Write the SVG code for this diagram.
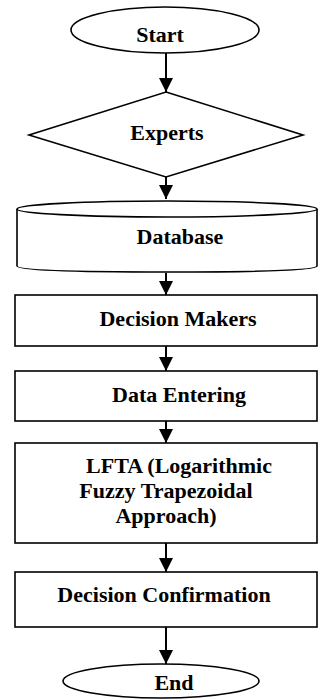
<svg xmlns="http://www.w3.org/2000/svg" width="320" height="699" viewBox="0 0 320 699">
<style>
.s{fill:#fff;stroke:#000;stroke-width:1.6}
.t{font-family:"Liberation Serif","Times New Roman",serif;font-weight:bold;font-size:22px;fill:#000}
.c{stroke:#000;stroke-width:2;fill:none}
</style>
<defs>
<marker id="ah" markerUnits="userSpaceOnUse" markerWidth="14" markerHeight="14" viewBox="0 0 14 14" refX="14" refY="7" orient="auto">
<path d="M0,0 L14,7 L0,14 Z" fill="#000"/>
</marker>
</defs>
<rect width="320" height="699" fill="#fff"/>
<g id="connectors">
<line class="c" x1="166" y1="53" x2="166" y2="92" marker-end="url(#ah)"/>
<line class="c" x1="166" y1="177" x2="166" y2="199" marker-end="url(#ah)"/>
<line class="c" x1="166" y1="273" x2="166" y2="295" marker-end="url(#ah)"/>
<line class="c" x1="166" y1="346" x2="166" y2="371" marker-end="url(#ah)"/>
<line class="c" x1="166" y1="421" x2="166" y2="443" marker-end="url(#ah)"/>
<line class="c" x1="166" y1="543" x2="166" y2="572" marker-end="url(#ah)"/>
<line class="c" x1="166" y1="627" x2="166" y2="664" marker-end="url(#ah)"/>
</g>
<g id="start">
<ellipse class="s" cx="165" cy="30" rx="94" ry="23"/>
<text class="t" x="160" y="42" text-anchor="middle">Start</text>
</g>
<g id="experts">
<polygon class="s" points="166,92 303,135 166,177 29,135"/>
<text class="t" x="167" y="140" text-anchor="middle">Experts</text>
</g>
<g id="database">
<path class="s" d="M17,209 L17,266 Q17,272 167,272 Q317,272 317,266 L317,209"/>
<ellipse class="s" cx="167" cy="209" rx="150" ry="8"/>
<text class="t" x="180" y="244" text-anchor="middle">Database</text>
</g>
<g id="decision-makers">
<rect class="s" x="15" y="295" width="302" height="51"/>
<text class="t" x="178" y="326" text-anchor="middle">Decision Makers</text>
</g>
<g id="data-entering">
<rect class="s" x="15" y="371" width="302" height="50"/>
<text class="t" x="179" y="402" text-anchor="middle">Data Entering</text>
</g>
<g id="lfta">
<rect class="s" x="15" y="443" width="302" height="100"/>
<text class="t" x="179" y="473" text-anchor="middle">LFTA (Logarithmic</text>
<text class="t" x="166" y="498" text-anchor="middle">Fuzzy Trapezoidal</text>
<text class="t" x="166" y="523" text-anchor="middle">Approach)</text>
</g>
<g id="decision-confirmation">
<rect class="s" x="15" y="572" width="302" height="55"/>
<text class="t" x="164" y="602" text-anchor="middle">Decision Confirmation</text>
</g>
<g id="end">
<ellipse class="s" cx="161" cy="681" rx="98" ry="17"/>
<text class="t" x="174" y="690" text-anchor="middle">End</text>
</g>
</svg>
